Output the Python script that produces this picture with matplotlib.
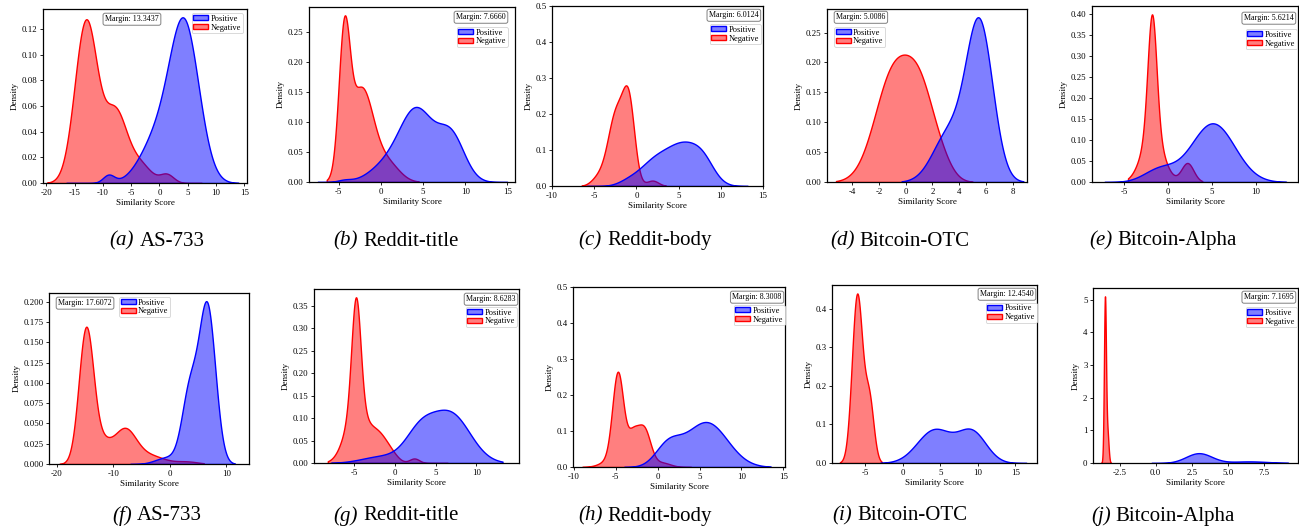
import numpy as np
import matplotlib
matplotlib.use("Agg")
import matplotlib.pyplot as plt
from matplotlib.patches import Patch

plt.rcParams['font.family'] = ['Liberation Serif', 'DejaVu Serif']
plt.rcParams['axes.unicode_minus'] = False

# ---------------- data ----------------
datasets = ["AS-733", "Reddit-title", "Reddit-body", "Bitcoin-OTC", "Bitcoin-Alpha",
            "AS-733", "Reddit-title", "Reddit-body", "Bitcoin-OTC", "Bitcoin-Alpha"]
letters = ["a", "b", "c", "d", "e", "f", "g", "h", "i", "j"]
margins = ["13.3437", "7.6660", "6.0124", "5.0086", "5.6214",
           "17.6072", "8.6283", "8.3008", "12.4540", "7.1695"]

# density estimates: (centre, width, height) of smooth bumps
pos_bumps = [
    [(4.4, 2.6, 0.1197), (-0.5, 3.0, 0.0332), (-9.0, 1.0, 0.006)],
    [(4.2, 2.0, 0.118), (8.3, 1.6, 0.075), (0.5, 2.0, 0.025), (-4.3, 0.8, 0.003)],
    [(5.6, 2.0, 0.108), (2.0, 1.8, 0.06), (8.0, 1.3, 0.04), (-1.0, 1.2, 0.01)],
    [(5.5, 1.0, 0.262), (3.2, 1.2, 0.08)],
    [(5.1, 2.5, 0.14), (-1.0, 1.8, 0.03)],
    [(6.6, 1.45, 0.192), (3.5, 1.4, 0.0884), (-0.5, 2.0, 0.008)],
    [(6.8, 2.4, 0.1092), (3.0, 1.8, 0.0613), (-1.5, 2.5, 0.015)],
    [(5.8, 2.5, 0.1245), (1.2, 1.5, 0.056)],
    [(4.2, 2.3, 0.0859), (9.2, 1.9, 0.0796)],
    [(3.0, 0.9, 0.30), (6.5, 1.3, 0.05)],
]
neg_bumps = [
    [(-13.0, 2.0, 0.1257), (-7.8, 2.0, 0.054), (-3.5, 2.0, 0.014), (1.3, 1.2, 0.0066)],
    [(-4.35, 0.65, 0.222), (-2.3, 1.4, 0.155), (0.8, 1.4, 0.03)],
    [(-2.4, 1.0, 0.203), (-0.9, 0.7, 0.198), (-4.6, 0.8, 0.02), (1.9, 0.7, 0.015)],
    [(-0.9, 1.4, 0.1814), (1.2, 1.1, 0.1187), (2.8, 0.8, 0.015)],
    [(-1.85, 0.5, 0.28), (-1.85, 1.2, 0.12), (2.2, 0.7, 0.045)],
    [(-14.8, 1.3, 0.165), (-12.0, 1.5, 0.022), (-8.0, 2.0, 0.042), (-3.5, 2.5, 0.01), (3.0, 2.0, 0.003)],
    [(-4.75, 0.55, 0.245), (-4.8, 1.3, 0.12), (-2.0, 1.2, 0.06), (-0.3, 0.8, 0.008), (2.4, 0.6, 0.01)],
    [(-4.75, 0.65, 0.2445), (-5.5, 1.2, 0.02), (-3.0, 0.7, 0.085), (-1.6, 0.75, 0.1), (0.5, 1.0, 0.012)],
    [(-6.1, 0.7, 0.435), (-4.5, 0.6, 0.16)],
    [(-3.52, 0.07, 5.0), (-3.35, 0.08, 0.9)],
]
pos_support = [(-16.5, 14.0), (-7.5, 15.0), (-5.9, 13.2), (-0.3, 8.8), (-7.3, 13.5),
               (-7.0, 11.5), (-7.8, 13.2), (-4.0, 13.5), (-3.0, 16.5), (-0.3, 9.2)]
neg_support = [(-19.9, 7.5), (-6.4, 4.5), (-6.5, 3.5), (-5.2, 5.0), (-4.6, 3.9),
               (-19.5, 6.0), (-8.2, 6.5), (-9.0, 4.0), (-8.4, -2.8), (-3.8, -3.1)]
xlims = [(-20.6, 15.5), (-8.5, 15.9), (-10, 15), (-5.87, 9.07), (-8.72, 14.86),
         (-21.35, 14.0), (-9.89, 15.22), (-10.1, 15.2), (-9.45, 17.9), (-4.35, 9.88)]
xticks = [[-20, -15, -10, -5, 0, 5, 10, 15], [-5, 0, 5, 10, 15], [-10, -5, 0, 5, 10, 15],
          [-4, -2, 0, 2, 4, 6, 8], [-5, 0, 5, 10], [-20, -10, 0, 10], [-5, 0, 5, 10],
          [-10, -5, 0, 5, 10, 15], [-5, 0, 5, 10, 15], [-2.5, 0.0, 2.5, 5.0, 7.5]]
fixed_ytop = [None, None, 0.5, None, None, None, None, 0.5, None, None]

# ---------------- layout ----------------
W, H = 1299, 529
axes_px = [(43, 9, 247, 183), (309, 7, 515, 182), (552, 6, 763, 186), (827, 9, 1027, 182),
           (1092, 6, 1298, 182), (49, 293, 249, 464), (314, 289, 519, 463),
           (573, 287, 785, 467), (832, 285, 1037, 463), (1093, 288, 1298, 463)]
margin_pos = [(0.436, 0.977, 'center'), (0.966, 0.977, 'right'), (0.99, 0.983, 'right'),
              (0.035, 0.988, 'left'), (0.99, 0.966, 'right'), (0.035, 0.977, 'left'),
              (0.995, 0.977, 'right'), (0.995, 0.978, 'right'), (0.995, 0.983, 'right'),
              (0.99, 0.983, 'right')]
legend_pos = [('upper right', (0.98, 0.977)), ('upper right', (0.966, 0.886)),
              ('upper right', (0.99, 0.90)), ('upper left', (0.035, 0.896)),
              ('upper right', (0.995, 0.869)), ('upper left', (0.35, 0.977)),
              ('upper right', (0.99, 0.897)), ('upper right', (1.0, 0.90)),
              ('upper right', (1.0, 0.90)), ('upper right', (0.995, 0.89))]
caption_x = [157, 396, 645, 900, 1163]
caption_y = [241, 516]


def density(x, bumps):
    y = np.zeros_like(x)
    for c, w, h in bumps:
        y += h * np.exp(-0.5 * ((x - c) / w) ** 2)
    return y


fig = plt.figure(figsize=(W / 100, H / 100), dpi=100)
pad_pt = 1.6
for i in range(10):
    l, t, r, b = axes_px[i]
    ax = fig.add_axes([l / W, 1 - b / H, (r - l) / W, (b - t) / H])
    xn = np.linspace(*neg_support[i], 800)
    yn = density(xn, neg_bumps[i])
    xp = np.linspace(*pos_support[i], 800)
    yp = density(xp, pos_bumps[i])
    ax.fill_between(xn, 0, yn, facecolor=(1, 0, 0, 0.5), edgecolor=(1, 0, 0, 1), linewidth=1.0)
    ax.fill_between(xp, 0, yp, facecolor=(0, 0, 1, 0.5), edgecolor=(0, 0, 1, 1), linewidth=1.0)
    ax.set_xlim(*xlims[i])
    ax.set_xticks(xticks[i])
    top = fixed_ytop[i] if fixed_ytop[i] is not None else 1.05 * max(yn.max(), yp.max())
    ax.set_ylim(0, top)
    ax.tick_params(labelsize=6.3, length=2.5, width=0.6, pad=1.5)
    ax.set_xlabel("Similarity Score", fontsize=6.5, labelpad=2)
    ax.set_ylabel("Density", fontsize=6.5, labelpad=2)
    for s in ax.spines.values():
        s.set_linewidth(0.9)
    mx, my, ha = margin_pos[i]
    off = {'right': -pad_pt, 'left': pad_pt, 'center': 0}[ha]
    ax.annotate("Margin: " + margins[i], xy=(mx, my), xycoords='axes fraction',
                xytext=(off, -pad_pt), textcoords='offset points', ha=ha, va='top',
                fontsize=5.8,
                bbox=dict(boxstyle='round,pad=0.25', fc='white', ec='gray', lw=0.7))
    handles = [Patch(facecolor=(0, 0, 1, 0.5), edgecolor='blue', label='Positive'),
               Patch(facecolor=(1, 0, 0, 0.5), edgecolor='red', label='Negative')]
    loc, anchor = legend_pos[i]
    leg = ax.legend(handles=handles, loc=loc, bbox_to_anchor=anchor, borderaxespad=0,
                    fontsize=6, labelspacing=0.1, borderpad=0.2, handlelength=1.8,
                    handleheight=0.6, handletextpad=0.3, fancybox=True, framealpha=1)
    leg.get_frame().set_linewidth(0.6)
    leg.get_frame().set_edgecolor('lightgray')

fig.canvas.draw()
renderer = fig.canvas.get_renderer()
gap = 15 * 100 / 72 * 0.25
for k in range(10):
    cx = caption_x[k % 5]
    cy = 1 - caption_y[k // 5] / H
    t1 = fig.text(0, cy, "(" + letters[k] + ")", fontsize=15, style='italic',
                  ha='left', va='center')
    t2 = fig.text(0, cy, datasets[k], fontsize=15, ha='left', va='center')
    w1 = t1.get_window_extent(renderer).width
    w2 = t2.get_window_extent(renderer).width
    x0 = cx - (w1 + gap + w2) / 2
    t1.set_x(x0 / W)
    t2.set_x((x0 + w1 + gap) / W)

fig.savefig("out.png", dpi=100)
